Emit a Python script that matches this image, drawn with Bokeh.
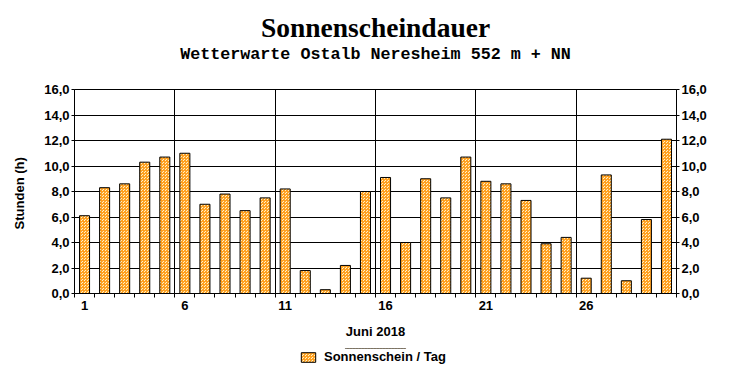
from bokeh.plotting import figure
from bokeh.layouts import column
from bokeh.models import (ColumnDataSource, FixedTicker, LinearAxis, Legend, LegendItem,
                          Title, Range1d)
from bokeh.embed import file_html
from bokeh.resources import INLINE

# ---- data ----
days = [1, 2, 3, 4, 5, 6, 7, 8, 9, 10, 11, 12, 13, 14, 15,
        16, 17, 18, 19, 20, 21, 22, 23, 24, 25, 26, 27, 28, 29, 30]
sunshine = [6.1, 8.3, 8.6, 10.3, 10.7, 11.0, 7.0, 7.8, 6.5, 7.5, 8.2, 1.8, 0.3, 2.2, 8.0,
            9.1, 4.0, 9.0, 7.5, 10.7, 8.8, 8.6, 7.3, 3.9, 4.4, 1.2, 9.3, 1.0, 5.8, 12.1]
x_label_days = [1, 6, 11, 16, 21, 26]
y_ticks = [0, 2, 4, 6, 8, 10, 12, 14, 16]
y_tick_labels = ["0,0", "2,0", "4,0", "6,0", "8,0", "10,0", "12,0", "14,0", "16,0"]
title_text = "Sonnenscheindauer"
subtitle_text = "Wetterwarte Ostalb Neresheim 552 m + NN"
x_title = "Juni 2018"
y_title = "Stunden  (h)"
series_name = "Sonnenschein / Tag"

FONT = "Liberation Sans"
BAR_STYLE = dict(fill_color="#FFF2C8", line_color="black", line_width=1,
                 hatch_pattern="criss_cross", hatch_color="#FFA020",
                 hatch_scale=3, hatch_weight=1)

src = ColumnDataSource(dict(day=days, val=sunshine))

p = figure(frame_width=602, frame_height=204,
           min_border_left=74, min_border_right=54,
           min_border_top=0, min_border_bottom=55,
           x_range=Range1d(days[0] - 0.5, days[-1] + 0.5),
           y_range=Range1d(y_ticks[0], y_ticks[-1]),
           output_backend="svg", toolbar_location=None,
           x_axis_location=None, y_axis_location=None)
p.background_fill_color = "white"
p.border_fill_color = "white"
p.outline_line_color = "black"
p.outline_line_width = 1

r = p.vbar(x="day", top="val", width=0.5, source=src, **BAR_STYLE)

# axes
bounds = [d - 0.5 for d in days] + [days[-1] + 0.5]
xaxis = LinearAxis(ticker=FixedTicker(ticks=x_label_days, minor_ticks=bounds),
                   axis_label=x_title)
xaxis.major_tick_out = 0
xaxis.major_tick_in = 0
xaxis.minor_tick_out = 4
xaxis.minor_tick_in = 0
xaxis.minor_tick_line_color = "black"
xaxis.major_label_standoff = 3
xaxis.axis_label_standoff = 11
p.add_layout(xaxis, "below")

overrides = {t: l for t, l in zip(y_ticks, y_tick_labels)}
yl = LinearAxis(ticker=FixedTicker(ticks=y_ticks), axis_label=y_title)
yl.major_label_overrides = overrides
yl.axis_label_standoff = 14
p.add_layout(yl, "left")
yr = LinearAxis(ticker=FixedTicker(ticks=y_ticks))
yr.major_label_overrides = overrides
p.add_layout(yr, "right")

for ax in (xaxis, yl, yr):
    ax.axis_line_color = "black"
    ax.major_tick_line_color = "black"
    ax.major_label_text_font = FONT
    ax.major_label_text_font_style = "bold"
    ax.major_label_text_font_size = "13px"
    ax.major_label_text_color = "black"
    ax.axis_label_text_font = FONT
    ax.axis_label_text_font_style = "bold"
    ax.axis_label_text_font_size = "13px"
    ax.axis_label_text_color = "black"
for ax in (yl, yr):
    ax.major_tick_out = 3
    ax.major_tick_in = 0
    ax.minor_tick_out = 0
    ax.minor_tick_in = 0
    ax.major_label_standoff = 2

# grids
p.xgrid.ticker = FixedTicker(ticks=[d - 0.5 for d in x_label_days[1:]])
p.xgrid.grid_line_color = "black"
p.ygrid.ticker = FixedTicker(ticks=y_ticks)
p.ygrid.grid_line_color = "black"
p.xgrid.level = "underlay"
p.ygrid.level = "underlay"

# titles (first added sits closest to the plot)
p.add_layout(Title(text=" ", text_font_size="1px", standoff=22), "above")
p.add_layout(Title(text=subtitle_text, align="center", text_font="Liberation Mono",
                   text_font_style="bold", text_font_size="16.7px", text_color="black",
                   standoff=1), "above")
p.add_layout(Title(text=title_text, align="center", text_font="Liberation Serif",
                   text_font_style="bold", text_font_size="27.5px", text_color="black",
                   standoff=0), "above")
p.add_layout(Title(text=" ", text_font_size="1px", standoff=6), "above")

# legend strip under the chart (swatch renderer lies outside the visible y range)
lf = figure(width=730, height=24, min_border=0,
            x_range=Range1d(0, 1), y_range=Range1d(0, 1),
            output_backend="svg", toolbar_location=None,
            x_axis_location=None, y_axis_location=None)
lf.outline_line_color = None
lf.grid.visible = False
lf.background_fill_color = "white"
lf.border_fill_color = "white"
lr = lf.vbar(x=[0.5], bottom=[5], top=[6], width=0.1, **BAR_STYLE)
legend = Legend(items=[LegendItem(label=series_name, renderers=[lr])],
                orientation="horizontal", location=(225, 8),
                border_line_alpha=0, background_fill_alpha=0,
                label_text_font=FONT, label_text_font_style="bold",
                label_text_font_size="13px", label_text_color="black",
                glyph_width=18, glyph_height=12,
                padding=0, margin=0, label_standoff=7, label_height=14)
lf.add_layout(legend, "center")

open("out.html", "w").write(file_html(column(p, lf), INLINE))
